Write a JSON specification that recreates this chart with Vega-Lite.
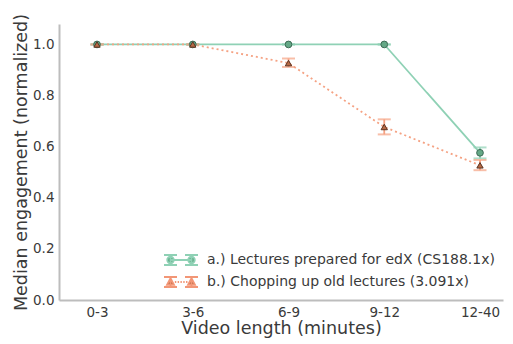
{
  "$schema": "https://vega.github.io/schema/vega-lite/v6.json",
  "width": 444,
  "height": 276,
  "autosize": {"type": "none"},
  "padding": {"left": 59, "top": 24, "right": 10, "bottom": 44},
  "background": "white",
  "config": {
    "view": {"stroke": null},
    "font": "DejaVu Sans",
    "axis": {"grid": false, "ticks": false, "domainColor": "#bdbdbd", "domainWidth": 2, "labelColor": "#3a3a3a", "titleColor": "#3a3a3a", "labelFontSize": 13.5, "titleFontSize": 17.5, "titleFontWeight": "normal", "labelFont": "DejaVu Sans", "titleFont": "DejaVu Sans"},
    "legend": {"labelFont": "DejaVu Sans", "labelFontSize": 14, "labelColor": "#3a3a3a", "padding": 0, "labelLimit": 0}
  },
  "data": {"values": [
    {"series": "a.) Lectures prepared for edX (CS188.1x)", "length": "0-3", "value": 1.0, "lo": 1.0, "hi": 1.0},
    {"series": "a.) Lectures prepared for edX (CS188.1x)", "length": "3-6", "value": 1.0, "lo": 1.0, "hi": 1.0},
    {"series": "a.) Lectures prepared for edX (CS188.1x)", "length": "6-9", "value": 1.0, "lo": 1.0, "hi": 1.0},
    {"series": "a.) Lectures prepared for edX (CS188.1x)", "length": "9-12", "value": 1.0, "lo": 1.0, "hi": 1.0},
    {"series": "a.) Lectures prepared for edX (CS188.1x)", "length": "12-40", "value": 0.576, "lo": 0.554, "hi": 0.597},
    {"series": "b.) Chopping up old lectures (3.091x)", "length": "0-3", "value": 1.0, "lo": 1.0, "hi": 1.0},
    {"series": "b.) Chopping up old lectures (3.091x)", "length": "3-6", "value": 1.0, "lo": 1.0, "hi": 1.0},
    {"series": "b.) Chopping up old lectures (3.091x)", "length": "6-9", "value": 0.927, "lo": 0.912, "hi": 0.945},
    {"series": "b.) Chopping up old lectures (3.091x)", "length": "9-12", "value": 0.677, "lo": 0.648, "hi": 0.707},
    {"series": "b.) Chopping up old lectures (3.091x)", "length": "12-40", "value": 0.527, "lo": 0.508, "hi": 0.548}
  ]},
  "encoding": {
    "x": {"field": "length", "type": "ordinal", "sort": ["0-3", "3-6", "6-9", "9-12", "12-40"],
      "scale": {"type": "point", "padding": 0.3186, "align": 0.623},
      "axis": {"title": "Video length (minutes)", "labelAngle": 0, "labelPadding": 5, "titleY": 28, "titleBaseline": "middle"}},
    "y": {"field": "value", "type": "quantitative", "scale": {"domain": [0, 1.08], "nice": false, "zero": true},
      "axis": {"title": "Median engagement (normalized)", "values": [0, 0.2, 0.4, 0.6, 0.8, 1.0], "format": ".1f", "labelPadding": 5, "titleX": -38, "titleBaseline": "middle"}}
  },
  "layer": [
    {
      "mark": {"type": "line", "strokeWidth": 1.8},
      "encoding": {
        "color": {"field": "series", "type": "nominal", "scale": {"range": ["#8fd1b5", "#f5a283"]}, "legend": null},
        "strokeDash": {"field": "series", "type": "nominal", "scale": {"range": [[1, 0], [2, 3]]}, "legend": null}
      }
    },
    {
      "mark": {"type": "rule", "strokeWidth": 1.8},
      "encoding": {
        "y": {"field": "lo", "type": "quantitative"},
        "y2": {"field": "hi"},
        "color": {"field": "series", "type": "nominal", "legend": null}
      }
    },
    {
      "mark": {"type": "tick", "size": 13, "thickness": 2},
      "encoding": {
        "y": {"field": "lo", "type": "quantitative"},
        "color": {"field": "series", "type": "nominal", "legend": null}
      }
    },
    {
      "mark": {"type": "tick", "size": 13, "thickness": 2},
      "encoding": {
        "y": {"field": "hi", "type": "quantitative"},
        "color": {"field": "series", "type": "nominal", "legend": null}
      }
    },
    {
      "transform": [{"filter": "indexof(datum.series, 'a.)') == 0"}],
      "mark": {"type": "point", "shape": "circle", "filled": true, "size": 45, "fill": "#64a886", "stroke": "#3e6b56", "strokeWidth": 1, "opacity": 1}
    },
    {
      "transform": [{"filter": "indexof(datum.series, 'b.)') == 0"}],
      "mark": {"type": "point", "shape": "triangle-up", "filled": true, "size": 40, "fill": "#b86a45", "stroke": "#5a3322", "strokeWidth": 1, "opacity": 1}
    },
    {
      "mark": {"type": "point", "opacity": 0, "strokeWidth": 1.8, "filled": true},
      "encoding": {
        "shape": {"field": "series", "type": "nominal",
          "scale": {"range": [
            "M-0.071,0H2.929 M-1,-0.714H0.857 M-0.071,-0.714V0.714 M-1,0.714H0.857 M2,-0.714H3.857 M2.929,-0.714V0.714 M2,0.714H3.857 M0.399,0A0.47,0.47 0 1,1 -0.541,0A0.47,0.47 0 1,1 0.399,0Z M3.399,0A0.47,0.47 0 1,1 2.459,0A0.47,0.47 0 1,1 3.399,0Z",
            "M0.55,0H0.75 M0.95,0H1.15 M1.35,0H1.55 M1.75,0H1.95 M2.15,0H2.35 M-1,-0.714H0.857 M-0.071,-0.714V0.714 M-1,0.714H0.857 M2,-0.714H3.857 M2.929,-0.714V0.714 M2,0.714H3.857 M-0.071,-0.55L0.429,0.4L-0.571,0.4Z M2.929,-0.55L3.429,0.4L2.429,0.4Z"
          ]},
          "legend": {"title": null, "orient": "none", "legendX": 104, "legendY": 228, "symbolSize": 196, "labelOffset": 28, "rowPadding": 4, "symbolOpacity": 1, "symbolStrokeWidth": 1.8, "labelFontSize": 14, "labelLimit": 0}},
        "stroke": {"field": "series", "type": "nominal", "scale": {"range": ["#8fd1b5", "#f29676"]}},
        "fill": {"field": "series", "type": "nominal", "scale": {"range": ["#64a886", "#b86a45"]}}
      }
    }
  ]
}
